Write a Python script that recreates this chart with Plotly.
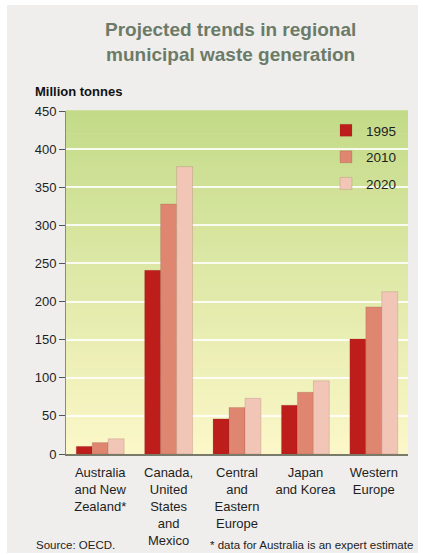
import plotly.graph_objects as go

categories = ["Australia<br>and New<br>Zealand*", "Canada,<br>United<br>States<br>and<br>Mexico",
              "Central<br>and<br>Eastern<br>Europe", "Japan<br>and Korea", "Western<br>Europe"]
years = ["1995", "2010", "2020"]
v1995 = [10, 241, 46, 64, 151]
v2010 = [15, 328, 61, 81, 193]
v2020 = [20, 377, 73, 96, 213]
series = [v1995, v2010, v2020]
colors = ["#bd1d1b", "#de8670", "#f1c6b6"]
yticks = [0, 50, 100, 150, 200, 250, 300, 350, 400, 450]

FONT = "Liberation Sans, Arial, sans-serif"

fig = go.Figure()
for name, vals, c in zip(years, series, colors):
    fig.add_trace(go.Bar(x=categories, y=vals, name=name, marker_color=c, legendgroup=name,
                         marker_line=dict(color="rgba(120,60,50,0.35)", width=0.5)))

W, H = 423, 555
L, R, T, B = 66, 15, 111, 101
pw, ph = W - L - R, H - T - B

def px(x):
    return (x - L) / pw

def py(y):
    return (H - B - y) / ph

shapes = []
# outer gray panel
shapes.append(dict(type="rect", xref="paper", yref="paper", x0=px(7), x1=px(418), y0=py(553), y1=py(5),
                   fillcolor="#efeeec", line=dict(width=0), layer="below"))
# gradient plot background
top = (195, 219, 137)
bot = (252, 247, 200)
n = 60
for i in range(n):
    t = i / (n - 1)
    col = tuple(int(round(bot[k] + (top[k] - bot[k]) * t)) for k in range(3))
    shapes.append(dict(type="rect", xref="paper", yref="paper", x0=0, x1=1,
                       y0=i / n, y1=(i + 1) / n + 0.002,
                       fillcolor="rgb(%d,%d,%d)" % col, line=dict(width=0), layer="below"))

fig.update_layout(
    width=W, height=H,
    margin=dict(l=L, r=R, t=T, b=B),
    paper_bgcolor="white",
    plot_bgcolor="rgba(0,0,0,0)",
    barmode="group", bargap=0.3, bargroupgap=0,
    font=dict(family=FONT, color="#1e1e1e", size=13),
    shapes=shapes,
    showlegend=True,
    legend=dict(x=px(326), y=py(115), xanchor="left", yanchor="top", bgcolor="rgba(0,0,0,0)",
                font=dict(size=13.5, color="#1e1e1e"), traceorder="grouped", tracegroupgap=6,
                itemwidth=30),
    annotations=[
        dict(text="<b>Projected trends in regional<br>municipal waste generation</b>", xref="paper", yref="paper",
             x=px(230), y=py(42), xanchor="center", yanchor="middle", showarrow=False,
             font=dict(size=19, color="#6c7b68", family=FONT)),
        dict(text="<b>Million tonnes</b>", xref="paper", yref="paper", x=px(33), y=py(92),
             xanchor="left", yanchor="middle", showarrow=False, font=dict(size=13, color="#111")),
        dict(text="Source: OECD.", xref="paper", yref="paper", x=px(34), y=py(545),
             xanchor="left", yanchor="middle", showarrow=False, font=dict(size=11.5, color="#222")),
        dict(text="* data for Australia is an expert estimate", xref="paper", yref="paper", x=px(415), y=py(545),
             xanchor="right", yanchor="middle", showarrow=False, font=dict(size=11.5, color="#222")),
    ],
)

fig.update_yaxes(range=[0, 450], tickvals=yticks, ticks="outside", ticklen=6, tickcolor="#555",
                 showgrid=True, gridcolor="rgba(255,255,255,0.85)", gridwidth=1.5,
                 showline=True, linecolor="#8a8f6a", linewidth=1, zeroline=False,
                 tickfont=dict(size=13, color="#1e1e1e"), automargin=False)
fig.update_xaxes(showline=True, linecolor="#7a7a6a", linewidth=1.5, ticks="",
                 tickfont=dict(size=13, color="#1e1e1e"), ticklabelstandoff=6, automargin=False)

fig.write_html("out.html")
